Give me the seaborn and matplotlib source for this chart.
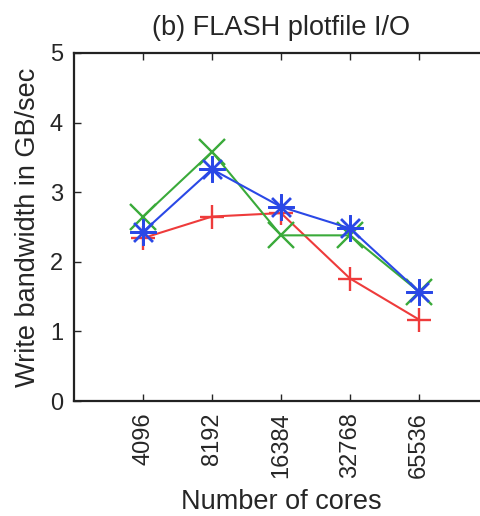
import matplotlib
matplotlib.use("Agg")
import matplotlib.pyplot as plt
import seaborn as sns
import pandas as pd

cores = ["4096", "8192", "16384", "32768", "65536"]
red_plus = [2.34, 2.65, 2.70, 1.76, 1.17]
green_cross = [2.65, 3.58, 2.38, 2.38, 1.57]
blue_star = [2.43, 3.33, 2.79, 2.48, 1.57]

series_names = ["red", "green", "blue"]
series_values = [red_plus, green_cross, blue_star]

rows = []
for name, vals in zip(series_names, series_values):
    for i, v in enumerate(vals):
        rows.append({"pos": i, "bw": v, "series": name})
df = pd.DataFrame(rows)

sns.set_style("ticks")
plt.rcParams["font.family"] = ["Liberation Sans", "DejaVu Sans"]

fig = plt.figure(figsize=(4.81, 5.16), dpi=100)
ax = fig.add_axes([74 / 481, (516 - 401) / 516, (488 - 74) / 481, (401 - 53) / 516])

palette = {"red": "#ee3b3b", "green": "#3aaa3a", "blue": "#2a48e6"}
markers = {"red": "+", "green": "x", "blue": (8, 2, 0)}
msizes = {"red": 17, "green": 19, "blue": 19}
for name in series_names:
    sns.lineplot(data=df[df["series"] == name], x="pos", y="bw",
                 color=palette[name], marker=markers[name],
                 markersize=msizes[name], markeredgewidth=1.7,
                 markeredgecolor=palette[name], linewidth=1.5,
                 legend=False, ax=ax)

ax.set_xlim(-1, 5)
ax.set_ylim(0, 5)
ax.set_xticks(range(len(cores)))
ax.set_xticklabels(cores, rotation=90, fontsize=17)
ax.set_yticks(range(6))
ax.set_yticklabels([str(i) for i in range(6)], fontsize=17)
ax.tick_params(direction="in", length=5, width=1, top=True, right=True, pad=8)
for s in ax.spines.values():
    s.set_visible(True)
    s.set_linewidth(1.6)
    s.set_color("#222222")

ax.set_title("(b) FLASH plotfile I/O", fontsize=19.5, pad=13)
ax.set_xlabel("Number of cores", fontsize=19.5, labelpad=8)
ax.set_ylabel("Write bandwidth in GB/sec", fontsize=19.5, labelpad=6)

fig.savefig("out.png", dpi=100)
